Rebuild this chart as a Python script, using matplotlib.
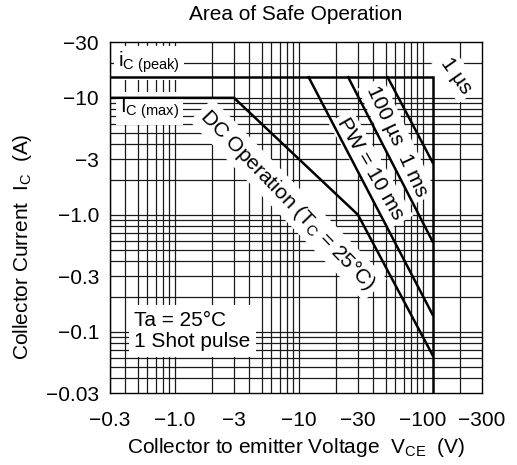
import matplotlib
matplotlib.use("Agg")
import matplotlib.pyplot as plt

plt.rcParams['font.family'] = ['Liberation Sans', 'DejaVu Sans']
plt.rcParams['mathtext.fontset'] = 'custom'
plt.rcParams['mathtext.rm'] = 'Liberation Sans'
plt.rcParams['mathtext.it'] = 'Liberation Sans'

# safe operating area boundaries (magnitudes, V and A)
vce_1us = [0.3, 120, 120]
ic_1us = [15, 15, 0.03]
vce_100us = [52, 120]
ic_100us = [15, 2.8]
vce_1ms = [25, 120]
ic_1ms = [15, 0.59]
vce_10ms = [12, 120]
ic_10ms = [15, 0.14]
vce_dc = [0.3, 3, 30, 120]
ic_dc = [10, 10, 1.0, 0.063]

x_ticks = [0.3, 1, 3, 10, 30, 100, 300]
x_labels = ["\u22120.3", "\u22121.0", "\u22123", "\u221210", "\u221230", "\u2212100", "\u2212300"]
y_ticks = [0.03, 0.1, 0.3, 1, 3, 10, 30]
y_labels = ["\u22120.03", "\u22120.1", "\u22120.3", "\u22121.0", "\u22123", "\u221210", "\u221230"]

W, H = 517, 465
FS = 15

fig = plt.figure(figsize=(W / 100, H / 100), dpi=100)
ax = fig.add_axes([110 / W, 1 - 393 / H, 372 / W, 351 / H])
ax.set_xscale("log")
ax.set_yscale("log")
ax.set_xlim(0.3, 300)
ax.set_ylim(0.03, 30)

# dense log grid
for dec in [0.1, 1, 10, 100]:
    for m in range(1, 10):
        v = m * dec
        if 0.3 < v < 300:
            ax.axvline(v, color="#1a1a1a", lw=0.9, zorder=1)
for dec in [0.01, 0.1, 1, 10]:
    for m in range(1, 10):
        v = m * dec
        if 0.03 < v < 30:
            ax.axhline(v, color="#1a1a1a", lw=0.9, zorder=1)

lw = 1.8
for xs, ys in [(vce_1us, ic_1us), (vce_100us, ic_100us), (vce_1ms, ic_1ms),
               (vce_10ms, ic_10ms), (vce_dc, ic_dc)]:
    ax.plot(xs, ys, color="black", lw=lw, zorder=5, solid_joinstyle="miter")

ax.set_xticks(x_ticks)
ax.set_xticklabels(x_labels, fontsize=FS)
ax.set_yticks(y_ticks)
ax.set_yticklabels(y_labels, fontsize=FS)
ax.minorticks_off()
ax.tick_params(axis="x", length=0, pad=13)
ax.tick_params(axis="y", length=0, pad=8)
for s in ax.spines.values():
    s.set_linewidth(1.0)
    s.set_zorder(6)

box = dict(facecolor="white", edgecolor="none", pad=3.0)
ax.text(0.35, 20, r"i$_{\mathrm{C\ (peak)}}$", fontsize=FS, va="center", ha="left", bbox=box, zorder=3)
ax.text(0.36, 8.1, r"I$_{\mathrm{C\ (max)}}$", fontsize=FS, va="center", ha="left", bbox=box, zorder=3)
ax.text(8.2, 1.34, r"DC Operation (T$_{\mathrm{C}}$ = 25°C)", fontsize=FS, rotation=-46,
        ha="center", va="center", rotation_mode="anchor", bbox=box, zorder=3)
ax.text(38, 2.46, "PW = 10 ms", fontsize=FS, rotation=-60,
        ha="center", va="center", rotation_mode="anchor", bbox=box, zorder=3)
ax.text(62, 4.27, "100 \u00b5s  1 ms", fontsize=FS, rotation=-65,
        ha="center", va="center", rotation_mode="anchor", bbox=box, zorder=3)
ax.text(185, 15.4, "1 \u00b5s", fontsize=FS, rotation=-55,
        ha="center", va="center", rotation_mode="anchor", bbox=box, zorder=3)
ax.text(0.47, 0.102, "Ta = 25°C\n1 Shot pulse", fontsize=FS, ha="left", va="center",
        linespacing=1.15, bbox=dict(facecolor="white", edgecolor="none", pad=4.0), zorder=3)

fig.text(296 / W, 1 - 15 / H, "Area of Safe Operation", fontsize=FS, ha="center", va="center")
fig.text(296 / W, 1 - 447 / H, r"Collector to emitter Voltage  V$_{\mathrm{CE}}$  (V)",
         fontsize=FS, ha="center", va="center")
fig.text(23 / W, 1 - 247 / H, r"Collector Current  I$_{\mathrm{C}}$  (A)", fontsize=FS,
         ha="center", va="center", rotation=90)

fig.savefig("out.png", dpi=100)
